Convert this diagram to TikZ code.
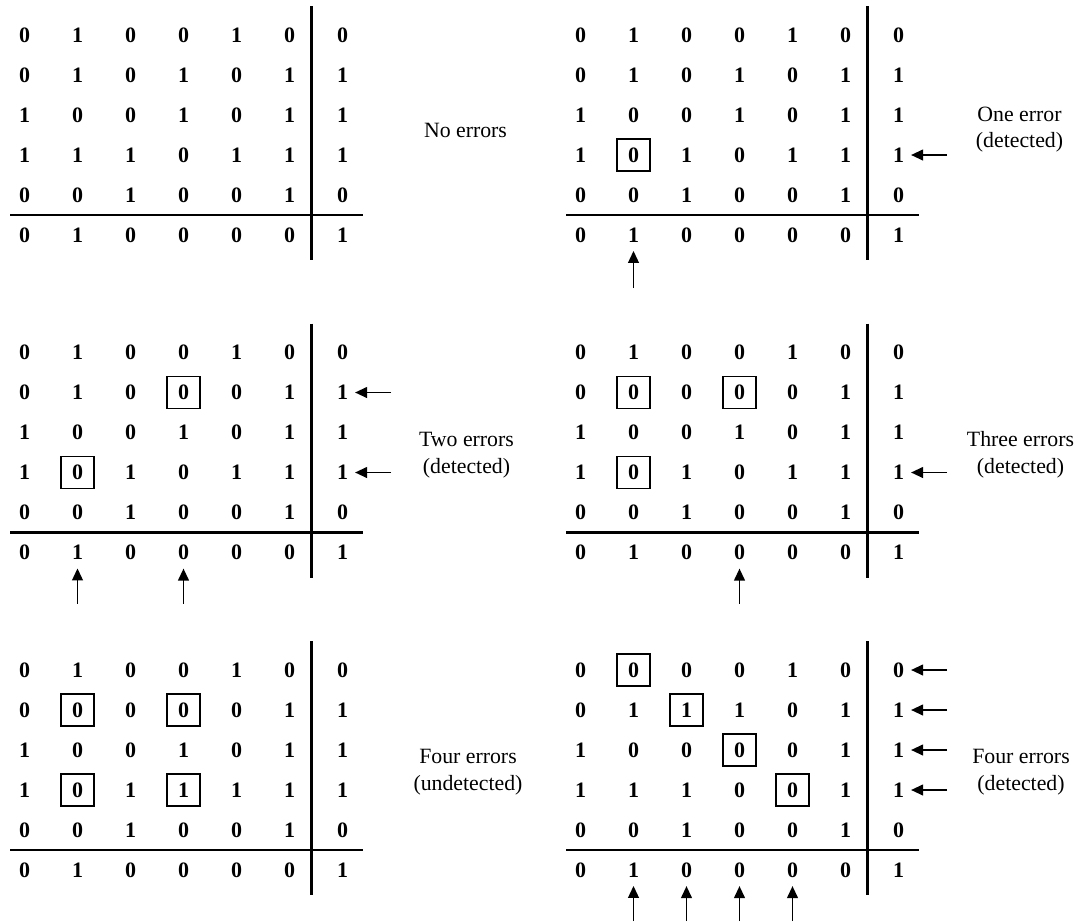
\documentclass[tikz,border=0pt]{standalone}
\usepackage{fontspec}
\setmainfont{Liberation Serif}
\usetikzlibrary{arrows.meta}

% one row of bits of a panel: #1 panel, #2 row, #3 bits
\newcommand{\bitrow}[3]{%
  \foreach \bitval [count=\col] in {#3}
    \node[bit] (#1-r#2-c\col) at ({24.5+53*(\col-1)}, {35+40*(#2-1)}) {\bitval};
}
% the two parity rules of a panel
\newcommand{\paritylines}{%
  \draw[rule] (311.5,6) -- (311.5,260);
  \draw[rule] (10,215) -- (363,215);
}

\begin{document}
\begin{tikzpicture}[
    x=0.5pt, y=-0.5pt,
    bit/.style={font=\fontsize{11}{13}\selectfont\bfseries},
    flip/.style={draw, line width=0.7pt, minimum width=16.5pt, minimum height=16pt, inner sep=0pt},
    rule/.style={line width=1.35pt},
    arrow/.style={-{Triangle[length=6pt, width=5.4pt]}, line width=0.85pt},
    uparrow/.style={arrow, shorten >=0.8pt},
    caption/.style={align=center, font=\fontsize{10.9}{13.3}\selectfont}
  ]
  \useasboundingbox (0,0) rectangle (1078,922);

  % No errors
  \begin{scope}
    \bitrow{p1}{1}{0,1,0,0,1,0,0}
    \bitrow{p1}{2}{0,1,0,1,0,1,1}
    \bitrow{p1}{3}{1,0,0,1,0,1,1}
    \bitrow{p1}{4}{1,1,1,0,1,1,1}
    \bitrow{p1}{5}{0,0,1,0,0,1,0}
    \bitrow{p1}{6}{0,1,0,0,0,0,1}
    \paritylines
    \node[caption] (p1-text) at (465.5,130) {No errors};
  \end{scope}

  % One error
  \begin{scope}[shift={(556,0)}]
    \bitrow{p2}{1}{0,1,0,0,1,0,0}
    \bitrow{p2}{2}{0,1,0,1,0,1,1}
    \bitrow{p2}{3}{1,0,0,1,0,1,1}
    \bitrow{p2}{4}{1,0,1,0,1,1,1}
    \bitrow{p2}{5}{0,0,1,0,0,1,0}
    \bitrow{p2}{6}{0,1,0,0,0,0,1}
    \paritylines
    \node[flip] (p2-f1) at (p2-r4-c2) {};
    \coordinate (p2-e4) at (391,155);
    \draw[arrow] (p2-e4) -- (p2-r4-c7);
    \coordinate (p2-s2) at (77.5,288);
    \draw[uparrow] (p2-s2) -- (p2-r6-c2);
    \node[caption] (p2-text) at (463.5,129.5) {One error\\(detected)};
  \end{scope}

  % Two errors
  \begin{scope}[shift={(0,317.5)}]
    \bitrow{p3}{1}{0,1,0,0,1,0,0}
    \bitrow{p3}{2}{0,1,0,0,0,1,1}
    \bitrow{p3}{3}{1,0,0,1,0,1,1}
    \bitrow{p3}{4}{1,0,1,0,1,1,1}
    \bitrow{p3}{5}{0,0,1,0,0,1,0}
    \bitrow{p3}{6}{0,1,0,0,0,0,1}
    \paritylines
    \foreach \r/\c [count=\i] in {2/4, 4/2}
      \node[flip] (p3-f\i) at (p3-r\r-c\c) {};
    \foreach \r in {2,4} {
      \coordinate (p3-e\r) at (391,{35+40*(\r-1)});
      \draw[arrow] (p3-e\r) -- (p3-r\r-c7);
    }
    \foreach \c in {2,4} {
      \coordinate (p3-s\c) at ({24.5+53*(\c-1)},286);
      \draw[uparrow] (p3-s\c) -- (p3-r6-c\c);
    }
    \node[caption] (p3-text) at (466.5,137.5) {Two errors\\(detected)};
  \end{scope}

  % Three errors
  \begin{scope}[shift={(556,317.5)}]
    \bitrow{p4}{1}{0,1,0,0,1,0,0}
    \bitrow{p4}{2}{0,0,0,0,0,1,1}
    \bitrow{p4}{3}{1,0,0,1,0,1,1}
    \bitrow{p4}{4}{1,0,1,0,1,1,1}
    \bitrow{p4}{5}{0,0,1,0,0,1,0}
    \bitrow{p4}{6}{0,1,0,0,0,0,1}
    \paritylines
    \foreach \r/\c [count=\i] in {2/2, 2/4, 4/2}
      \node[flip] (p4-f\i) at (p4-r\r-c\c) {};
    \coordinate (p4-e4) at (391,155);
    \draw[arrow] (p4-e4) -- (p4-r4-c7);
    \coordinate (p4-s4) at (183.5,286);
    \draw[uparrow] (p4-s4) -- (p4-r6-c4);
    \node[caption] (p4-text) at (464.5,137.5) {Three errors\\(detected)};
  \end{scope}

  % Four errors, undetected
  \begin{scope}[shift={(0,635)}]
    \bitrow{p5}{1}{0,1,0,0,1,0,0}
    \bitrow{p5}{2}{0,0,0,0,0,1,1}
    \bitrow{p5}{3}{1,0,0,1,0,1,1}
    \bitrow{p5}{4}{1,0,1,1,1,1,1}
    \bitrow{p5}{5}{0,0,1,0,0,1,0}
    \bitrow{p5}{6}{0,1,0,0,0,0,1}
    \paritylines
    \foreach \r/\c [count=\i] in {2/2, 2/4, 4/2, 4/4}
      \node[flip] (p5-f\i) at (p5-r\r-c\c) {};
    \node[caption] (p5-text) at (468,137) {Four errors\\(undetected)};
  \end{scope}

  % Four errors, detected
  \begin{scope}[shift={(556,635)}]
    \bitrow{p6}{1}{0,0,0,0,1,0,0}
    \bitrow{p6}{2}{0,1,1,1,0,1,1}
    \bitrow{p6}{3}{1,0,0,0,0,1,1}
    \bitrow{p6}{4}{1,1,1,0,0,1,1}
    \bitrow{p6}{5}{0,0,1,0,0,1,0}
    \bitrow{p6}{6}{0,1,0,0,0,0,1}
    \paritylines
    \foreach \r/\c [count=\i] in {1/2, 2/3, 3/4, 4/5}
      \node[flip] (p6-f\i) at (p6-r\r-c\c) {};
    \foreach \r in {1,...,4} {
      \coordinate (p6-e\r) at (391,{35+40*(\r-1)});
      \draw[arrow] (p6-e\r) -- (p6-r\r-c7);
    }
    \foreach \c in {2,...,5} {
      \coordinate (p6-s\c) at ({24.5+53*(\c-1)},286);
      \draw[uparrow] (p6-s\c) -- (p6-r6-c\c);
    }
    \node[caption] (p6-text) at (465,137) {Four errors\\(detected)};
  \end{scope}
\end{tikzpicture}
\end{document}
